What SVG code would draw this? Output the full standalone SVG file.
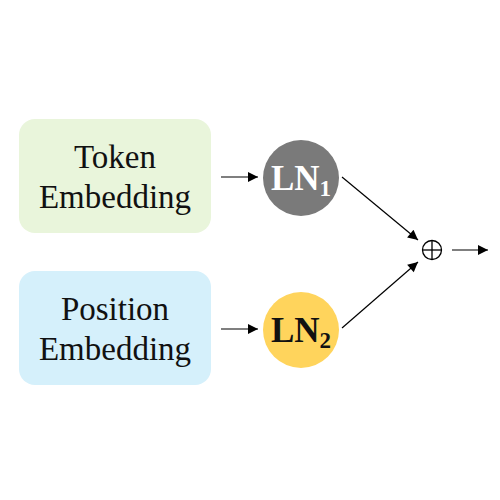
<svg xmlns="http://www.w3.org/2000/svg" width="500" height="500" viewBox="0 0 500 500">
<style>
.lbl{font-family:"Liberation Serif","Times New Roman",serif;font-size:33px;fill:#111;text-anchor:middle}
.ln{font-family:"Liberation Serif","Times New Roman",serif;font-size:35px;font-weight:bold;text-anchor:middle}
.sub{font-size:23px}
.edge{stroke:#000;stroke-width:1.2;fill:none;marker-end:url(#ah)}
</style>
<defs>
<marker id="ah" viewBox="0 0 10 10" refX="10" refY="5" markerWidth="15" markerHeight="10" markerUnits="userSpaceOnUse" orient="auto">
<path d="M0,0 L10,5 L0,10 Z" fill="#000"/>
</marker>
</defs>
<rect width="500" height="500" fill="#fff"/>
<g id="token">
<rect x="19" y="119" width="192" height="114" rx="16" fill="#E9F5DB"/>
<text class="lbl" x="115" y="168">Token</text>
<text class="lbl" x="115" y="208">Embedding</text>
</g>
<g id="position">
<rect x="19" y="271" width="192" height="114" rx="16" fill="#D5F0FB"/>
<text class="lbl" x="115" y="320">Position</text>
<text class="lbl" x="115" y="360">Embedding</text>
</g>
<g id="ln1">
<circle cx="301" cy="178" r="38" fill="#7A7A7A"/>
<text class="ln" x="301" y="190" fill="#fff">LN<tspan class="sub" dy="6">1</tspan></text>
</g>
<g id="ln2">
<circle cx="301" cy="330" r="38" fill="#FFD45C"/>
<text class="ln" x="301" y="342" fill="#111">LN<tspan class="sub" dy="6">2</tspan></text>
</g>
<g id="add">
<circle cx="432" cy="250" r="9.5" fill="none" stroke="#000" stroke-width="1.3"/>
<line x1="422.5" y1="250" x2="441.5" y2="250" stroke="#000" stroke-width="1.3"/>
<line x1="432" y1="240.5" x2="432" y2="259.5" stroke="#000" stroke-width="1.3"/>
</g>
<g id="connectors">
<line class="edge" x1="221" y1="177" x2="258" y2="177"/>
<line class="edge" x1="221" y1="329" x2="258" y2="329"/>
<line class="edge" x1="342" y1="177" x2="418" y2="240"/>
<line class="edge" x1="342" y1="328" x2="418" y2="262"/>
<line class="edge" x1="452" y1="250" x2="488" y2="250"/>
</g>
</svg>
